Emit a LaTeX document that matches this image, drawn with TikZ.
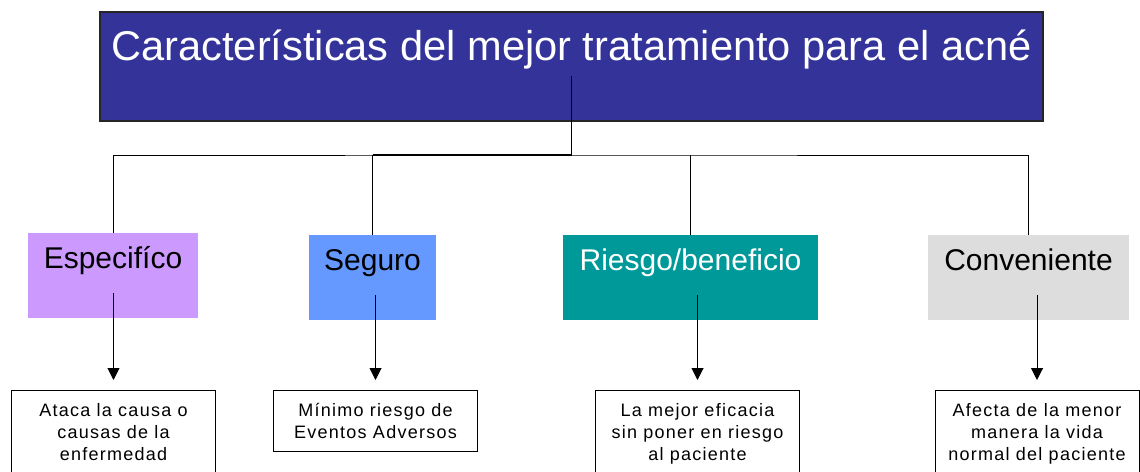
\documentclass[tikz,border=0pt]{standalone}
\usepackage{fontspec}
\setmainfont{Liberation Sans}
\usepackage{tikz}
\usetikzlibrary{arrows.meta}
\definecolor{titlefill}{HTML}{333399}
\definecolor{lilac}{HTML}{CC99FF}
\definecolor{skyblue}{HTML}{6699FF}
\definecolor{teal}{HTML}{009999}
\definecolor{lightgrey}{HTML}{DDDDDD}
\newcommand{\smalltext}{\fontsize{9}{11}\selectfont\addfontfeatures{LetterSpace=7}}

\begin{document}
\begin{tikzpicture}[x=0.5pt,y=-0.5pt,
  headbox/.style={fill=titlefill,draw=black!85,line width=0.8pt,text=white,
    minimum width=471.5pt,inner ysep=0pt,text height=24pt,text depth=30.5pt,
    font=\fontsize{20.8}{24}\selectfont},
  kindbox/.style={minimum height=42.5pt,inner ysep=0pt,text height=17.5pt,
    text depth=25pt,font=\fontsize{15}{18}\selectfont},
  notebox/.style={draw=black,line width=0.5pt,anchor=north,align=center,
    minimum width=102pt,inner ysep=6.5pt,font=\smalltext},
  link/.style={line width=0.5pt},
  arr/.style={line width=0.5pt,-{Triangle[width=6pt,length=6pt]},shorten >=5pt}]
\useasboundingbox (0,0) rectangle (1140,471);
\node[headbox] (title) at (571.5,66.5) {Características del mejor tratamiento para el acné};
\coordinate (hub) at (571.5,155);
% cuatro caracteristicas
\node[kindbox,fill=lilac,minimum width=85pt] (esp) at (113,275.5) {Especifíco};
\node[kindbox,fill=skyblue,minimum width=63.5pt] (seg) at (372.5,277.5) {Seguro};
\node[kindbox,fill=teal,text=white,minimum width=127.5pt] (rb) at (690.5,277.5) {Riesgo/beneficio};
\node[kindbox,fill=lightgrey,minimum width=100.5pt] (conv) at (1028.5,277.5) {Conveniente};
% descripciones
\node[notebox] (d1) at (113.5,390) {Ataca la causa o\\causas de la\\enfermedad};
\node[notebox] (d2) at (375.5,390) {Mínimo riesgo de\\Eventos Adversos};
\node[notebox] (d3) at (697.5,390) {La mejor eficacia\\sin poner en riesgo\\al paciente};
\node[notebox] (d4) at (1037,390) {Afecta de la menor\\manera la vida\\normal del paciente};
% conectores
\draw[link] ([yshift=23pt]title.south) -- (hub);
\draw[link] (esp.north) |- (hub) -| (conv.north);
\draw[line width=1pt] (seg.north |- hub) -- (hub);
\draw[link] (seg.north) -- (seg.north |- hub);
\draw[link] (rb.north) -- (rb.north |- hub);
\draw[arr] ([yshift=12.5pt]d1.north |- esp.south) -- (d1.north);
\draw[arr] ([yshift=12.5pt]d2.north |- seg.south) -- (d2.north);
\draw[arr] ([yshift=12.5pt]d3.north |- rb.south) -- (d3.north);
\draw[arr] ([yshift=12.5pt]d4.north |- conv.south) -- (d4.north);
\end{tikzpicture}
\end{document}
